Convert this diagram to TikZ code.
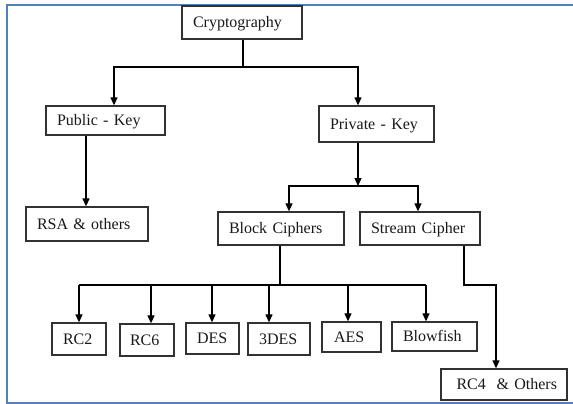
\documentclass[tikz,border=0pt]{standalone}
\usepackage{fontspec}
\setmainfont{Liberation Serif}
\usetikzlibrary{arrows.meta}
\definecolor{framecol}{RGB}{79,129,189}
\definecolor{boxline}{RGB}{50,50,50}
\begin{document}
\begin{tikzpicture}[x=1pt,y=-1pt,
  box/.style={draw=boxline, line width=1.3pt, fill=white, inner xsep=11pt,
    inner ysep=0pt, align=left, text height=13pt, text depth=3pt,
    font=\fontsize{16}{19}\selectfont, text=black!90},
  link/.style={line width=1.2pt, draw=black},
  arr/.style={link, -{Triangle[length=8pt,width=7pt]}}]
\useasboundingbox (0,0) rectangle (573,404);

% outer frame
\draw[framecol, line width=2pt] (573,5) -- (7,5) -- (7,402.5) -- (573,402.5);

% boxes
\node[box, minimum width=120pt, minimum height=33pt, text width=98pt] (crypt) at (242,22.5) {Cryptography};
\node[box, minimum width=119pt, minimum height=29pt, text width=97pt] (pub) at (105.5,120.5) {Public - Key};
\node[box, minimum width=115pt, minimum height=36pt, text width=93pt, inner xsep=9pt] (priv) at (376.5,124) {Private - Key};
\node[box, minimum width=122pt, minimum height=34pt, text width=100pt] (rsa) at (87,224) {RSA \& others};
\node[box, minimum width=126pt, minimum height=33pt, text width=104pt, inner xsep=10pt] (block) at (281,228.5) {Block Ciphers};
\node[box, minimum width=120pt, minimum height=33pt, text width=98pt] (stream) at (420,228.5) {Stream Cipher};
\node[box, minimum width=54pt, minimum height=32pt, text width=32pt] (rc2) at (79,339) {RC2};
\node[box, minimum width=54pt, minimum height=32pt, text width=34pt, inner xsep=10pt] (rc6) at (147,340) {RC6};
\node[box, minimum width=53pt, minimum height=31pt, text width=31pt] (des) at (212.5,338.5) {DES};
\node[box, minimum width=62pt, minimum height=32pt, text width=40pt] (tdes) at (279,339) {3DES};
\node[box, minimum width=59pt, minimum height=30pt, text width=35pt, inner xsep=12pt] (aes) at (351.5,337) {AES};
\node[box, minimum width=85pt, minimum height=29pt, text width=63pt] (blow) at (434.5,336.5) {Blowfish};
\node[box, minimum width=126pt, minimum height=31pt, text width=106pt, inner xsep=10pt, align=right] (rc4) at (504,384.5) {RC4~ \& Others};

% junction points
\coordinate (j1) at (243,67);
\coordinate (j1l) at (114,67);
\coordinate (j1r) at (358,67);
\coordinate (rsax) at (86,0);
\coordinate (j2) at (358,186);
\coordinate (j2l) at (289,186);
\coordinate (j2r) at (418,186);
\coordinate (j3) at (280,285);
\coordinate (d1) at (79,285);
\coordinate (d2) at (151,285);
\coordinate (d3) at (212,285);
\coordinate (d4) at (269,285);
\coordinate (d5) at (348,285);
\coordinate (d6) at (426,285);
\coordinate (s1) at (464,285);
\coordinate (s2) at (496,285);

% Cryptography -> Public / Private
\draw[link] (crypt.south -| j1) -- (j1);
\draw[arr] (j1) -| (pub.north -| j1l);
\draw[arr] (j1) -| (priv.north -| j1r);

% Public -> RSA
\draw[arr] (pub.south -| rsax) -- (rsa.north -| rsax);

% Private -> Block / Stream
\draw[arr] (priv.south -| j2) -- (j2);
\draw[arr] (j2) -| (block.north -| j2l);
\draw[arr] (j2) -| (stream.north -| j2r);

% Block -> algorithms
\draw[link] (block.south -| j3) -- (j3);
\draw[link] (d1) -- (d6);
\draw[arr] (d1) -- (rc2.north -| d1);
\draw[arr] (d2) -- (rc6.north -| d2);
\draw[arr] (d3) -- (des.north -| d3);
\draw[arr] (d4) -- (tdes.north -| d4);
\draw[arr] (d5) -- (aes.north -| d5);
\draw[arr] (d6) -- (blow.north -| d6);

% Stream -> RC4
\draw[arr] (stream.south -| s1) -- (s1) -- (s2) -- (rc4.north -| s2);
\end{tikzpicture}
\end{document}
